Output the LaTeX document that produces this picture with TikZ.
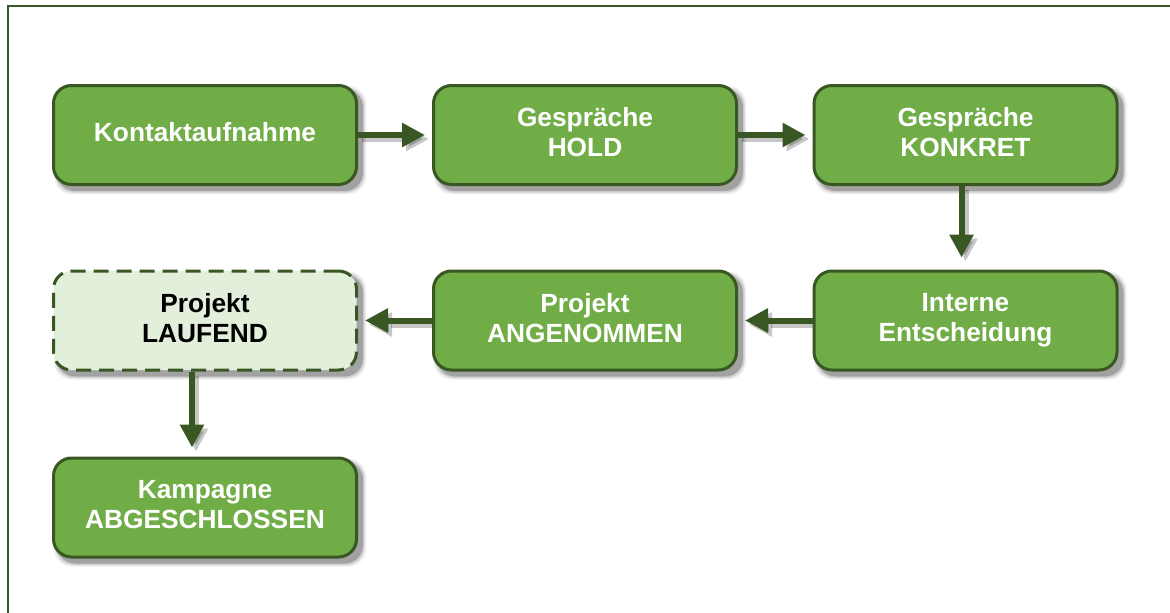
\documentclass[tikz,border=0pt]{standalone}
\usepackage{fontspec}
\setmainfont{Liberation Sans}
\usetikzlibrary{arrows.meta,backgrounds}

\definecolor{leaf}{HTML}{70AD47}
\definecolor{moss}{HTML}{385723}
\definecolor{paleleaf}{HTML}{E2EFDA}

\tikzset{
  stage/.style={draw=moss, line width=3pt, fill=leaf, rounded corners=18pt,
    minimum width=303pt, minimum height=99pt, inner sep=0pt,
    align=center, text=white, text depth=6pt,
    font=\fontsize{26.3}{30}\selectfont\bfseries},
  openstage/.style={stage, fill=paleleaf, text=black, dashed,
    dash pattern=on 15pt off 8pt},
  flow/.style={draw=moss, line width=6pt,
    -{Triangle[length=23pt,width=23pt]}},
  flowshade/.style={draw=black, opacity=0.22, line width=6pt,
    -{Triangle[length=23pt,width=23pt]}},
}

% soft drop shadow under a stage box
\newcommand\dropshade[1]{%
  \begin{scope}[on background layer]
    \foreach \e/\o in {3/0.07,1.5/0.12,0/0.22}{
      \fill[black, opacity=\o, rounded corners=18pt]
        ([shift={(5-\e,5+\e)}]#1.south west) rectangle
        ([shift={(5+\e,5-\e)}]#1.north east);
    }
  \end{scope}}

% arrow with its faint shadow
\newcommand\flowarrow[2]{%
  \begin{scope}[on background layer]
    \draw[flowshade, transform canvas={shift={(4pt,-4pt)}}] #1 -- #2;
  \end{scope}
  \draw[flow] #1 -- #2;}

\begin{document}
\begin{tikzpicture}[x=1pt, y=-1pt]
  \useasboundingbox (0,0) rectangle (1170,613);

  \begin{scope}[on background layer]
    \draw[moss, line width=2pt] (8,6) rectangle (1185,630);
  \end{scope}

  \node[stage] (kontakt) at (205,135) {Kontaktaufnahme};
  \node[stage] (hold) at (585,135) {Gespräche\\HOLD};
  \node[stage] (konkret) at (965.5,135) {Gespräche\\KONKRET};
  \node[stage] (intern) at (965.5,320.5) {Interne\\Entscheidung};
  \node[stage] (angenommen) at (585,320.5) {Projekt\\ANGENOMMEN};
  \node[openstage] (laufend) at (205,320.5) {Projekt\\LAUFEND};
  \node[stage] (kampagne) at (205,507.5) {Kampagne\\ABGESCHLOSSEN};

  \dropshade{kontakt}
  \dropshade{hold}
  \dropshade{konkret}
  \dropshade{intern}
  \dropshade{angenommen}
  \dropshade{laufend}
  \dropshade{kampagne}

  \flowarrow{(kontakt.east)}{([xshift=-7pt]hold.west)}
  \flowarrow{(hold.east)}{([xshift=-7pt]konkret.west)}
  \flowarrow{([xshift=-4pt]konkret.south)}{([xshift=-4pt,yshift=12pt]intern.north)}
  \flowarrow{(intern.west)}{([xshift=7pt]angenommen.east)}
  \flowarrow{(angenommen.west)}{([xshift=7pt]laufend.east)}
  \flowarrow{([xshift=-13pt]laufend.south)}{([xshift=-13pt,yshift=9pt]kampagne.north)}
\end{tikzpicture}
\end{document}
